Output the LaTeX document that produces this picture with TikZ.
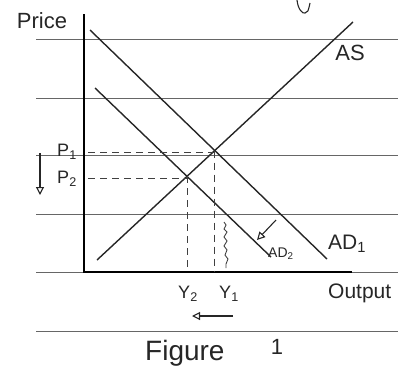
\documentclass[tikz,border=0pt]{standalone}
\usepackage{fontspec}
\setmainfont{Liberation Sans}
\usetikzlibrary{arrows.meta}
\tikzset{
  ruled/.style={draw=black!60, line width=1pt},
  axisline/.style={draw=black, line width=1.3pt},
  curve/.style={draw=black!85, line width=1.4pt},
  guide/.style={draw=black!75, line width=0.9pt, dash pattern=on 7pt off 5pt},
  shiftarrow/.style={draw=black!85, line width=1.1pt, -{Triangle[open,length=8pt,width=8pt]}},
  hand/.style={inner sep=0pt, text=black!85},
}
\begin{document}
\begin{tikzpicture}[x=1pt,y=-1pt]
\useasboundingbox (0,0) rectangle (398,383);
% lined paper
\foreach \yy/\nm in {39/la,98/lb,155/lc,214/ld,272/le,331/lf}{
  \coordinate (\nm w) at (36,\yy);
  \coordinate (\nm e) at (398,\yy);
  \draw[ruled] (\nm w) -- (\nm e);
}
% fragment at top
\coordinate (fa) at (297,0);
\coordinate (fb) at (305,13);
\coordinate (fc) at (310,3);
\draw[curve, line width=1.1pt] (fa) .. controls (298,10) and (303,14) .. (fb) .. controls (308,12) .. (fc);
% axes
\coordinate (ytop) at (84,14);
\coordinate (orig) at (84,272);
\coordinate (xend) at (352,272);
\draw[axisline] (ytop) -- (orig) -- (xend);
% curves
\coordinate (ada) at (90,30);
\coordinate (adb) at (327,259);
\coordinate (adc) at (95,88);
\coordinate (add) at (271,257);
\coordinate (asa) at (97,260);
\coordinate (asb) at (353,22);
\draw[curve] (ada) -- (adb);
\draw[curve] (adc) -- (add);
\draw[curve] (asa) -- (asb);
\coordinate (e1) at (intersection of ada--adb and asa--asb);
\coordinate (e2) at (intersection of adc--add and asa--asb);
% guides
\coordinate (p1s) at (88,152);
\coordinate (p2s) at (88,178);
\draw[guide] (p1s) -- (p1s -| e1);
\draw[guide] (p2s) -- (p2s -| e2);
\draw[guide] (e1) -- (e1 |- orig);
\draw[guide] (e2) -- (e2 |- orig);
% squiggle next to Y1
\coordinate (sqa) at (224,222);
\coordinate (sqb) at (226,268);
\draw[black!75, line width=0.9pt] (sqa) -- ++(2,3) -- ++(-2,4) -- ++(3,3) -- ++(-3,5) -- ++(3,4) -- ++(-3,5) -- ++(3,4) -- ++(-2,5) -- ++(3,4) -- ++(-2,5) -- (sqb);
% shift arrows
\coordinate (sa1) at (276,220);
\coordinate (sa2) at (257,240);
\draw[shiftarrow] (sa1) -- (sa2);
\coordinate (pa1) at (40,153);
\coordinate (pa2) at (40,195);
\draw[shiftarrow] (pa1) -- (pa2);
\coordinate (ya1) at (233,316);
\coordinate (ya2) at (192,316);
\draw[shiftarrow] (ya1) -- (ya2);
% labels
\node[hand, font=\fontsize{22}{22}\selectfont] (price) at (42,21) {Price};
\node[hand, font=\fontsize{22}{22}\selectfont] (aslab) at (350,53) {AS};
\node[hand, font=\fontsize{21}{21}\selectfont, anchor=west] (ad1lab) at (328,244) {AD\textsubscript{1}};
\node[hand, font=\fontsize{14}{14}\selectfont, anchor=west] (ad2lab) at (268,254) {AD\textsubscript{2}};
\node[hand, font=\fontsize{18}{18}\selectfont] (p1lab) at (67,152) {P\textsubscript{1}};
\node[hand, font=\fontsize{18}{18}\selectfont] (p2lab) at (67,179) {P\textsubscript{2}};
\node[hand, font=\fontsize{18}{18}\selectfont] (y2lab) at (188,294) {Y\textsubscript{2}};
\node[hand, font=\fontsize{18}{18}\selectfont] (y1lab) at (229,294) {Y\textsubscript{1}};
\node[hand, font=\fontsize{21}{21}\selectfont, anchor=west] (outlab) at (328,293) {Output};
\node[hand, font=\fontsize{28}{28}\selectfont, anchor=west] (figlab) at (145,353) {Figure};
\node[hand, font=\fontsize{22}{22}\selectfont] (fignum) at (277,347) {1};
\end{tikzpicture}
\end{document}
